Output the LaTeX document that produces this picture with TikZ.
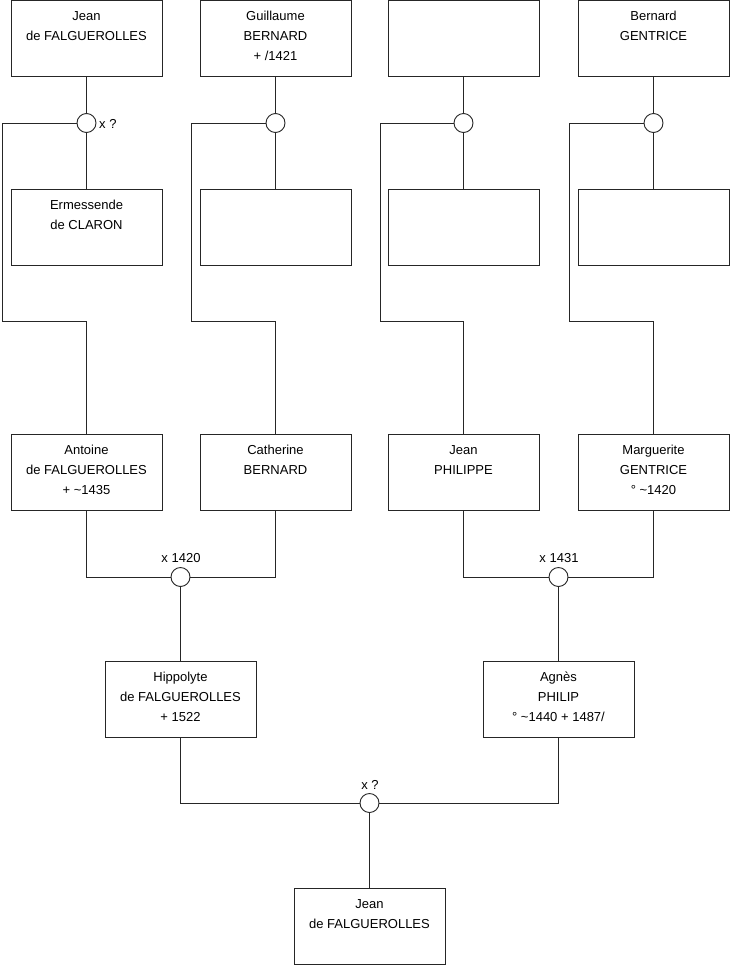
\documentclass[tikz,border=0pt]{standalone}
\usepackage{fontspec}
\setmainfont{Liberation Sans}
\begin{document}
\begin{tikzpicture}[x=1pt,y=-1pt,
  box/.style={draw=black!85, line width=0.9pt, fill=white, minimum width=151pt, minimum height=76pt, inner sep=0pt},
  txt/.style={anchor=north, align=center, inner sep=0pt, font=\fontsize{13}{20}\selectfont},
  union/.style={circle, draw=black!85, line width=0.9pt, fill=white, minimum size=19pt, inner sep=0pt},
  lab/.style={inner sep=0pt, font=\fontsize{13}{15}\selectfont},
  link/.style={draw=black!85, line width=0.9pt}]
\useasboundingbox (0,0) rectangle (740,975);
% top row
\node[box] (t1) at (86.5,38) {};
\node[box] (t2) at (275.5,38) {};
\node[box] (t3) at (463.5,38) {};
\node[box] (t4) at (653.5,38) {};
% spouses
\node[box] (s1) at (86.5,227) {};
\node[box] (s2) at (275.5,227) {};
\node[box] (s3) at (463.5,227) {};
\node[box] (s4) at (653.5,227) {};
% children
\node[box] (a1) at (86.5,472) {};
\node[box] (a2) at (275.5,472) {};
\node[box] (a3) at (463.5,472) {};
\node[box] (a4) at (653.5,472) {};
% grandchildren
\node[box] (h1) at (180.5,699) {};
\node[box] (h2) at (558.5,699) {};
% final
\node[box] (f) at (369.5,926) {};
% unions
\node[union] (c1) at (86.5,123) {};
\node[union] (c2) at (275.5,123) {};
\node[union] (c3) at (463.5,123) {};
\node[union] (c4) at (653.5,123) {};
\node[union] (m1) at (180.5,577) {};
\node[union] (m2) at (558.5,577) {};
\node[union] (m3) at (369.5,803) {};
% corner coordinates
\coordinate (k1) at (2,321);
\coordinate (k2) at (191,321);
\coordinate (k3) at (380,321);
\coordinate (k4) at (569,321);
% connectors
\foreach \i in {1,2,3,4}{
  \draw[link] (t\i) -- (c\i);
  \draw[link] (c\i) -- (s\i);
  \draw[link] (c\i.west) -| (k\i) -| (a\i.north);
}
\draw[link] (a1.south) |- (m1.west);
\draw[link] (a2.south) |- (m1.east);
\draw[link] (m1) -- (h1);
\draw[link] (a3.south) |- (m2.west);
\draw[link] (a4.south) |- (m2.east);
\draw[link] (m2) -- (h2);
\draw[link] (h1.south) |- (m3.west);
\draw[link] (h2.south) |- (m3.east);
\draw[link] (m3) -- (f);
% labels
\node[lab, anchor=west] (l1) at (99,124) {x ?};
\node[lab] (l2) at (181,558) {x 1420};
\node[lab] (l3) at (559,558) {x 1431};
\node[lab] (l4) at (370,785) {x ?};
% texts
\node[txt] at (t1.north) {\rule{0pt}{20.5pt}Jean\\de FALGUEROLLES};
\node[txt] at (t2.north) {\rule{0pt}{20.5pt}Guillaume\\BERNARD\\+ /1421};
\node[txt] at (t4.north) {\rule{0pt}{20.5pt}Bernard\\GENTRICE};
\node[txt] at (s1.north) {\rule{0pt}{20.5pt}Ermessende\\de CLARON};
\node[txt] at (a1.north) {\rule{0pt}{20.5pt}Antoine\\de FALGUEROLLES\\+ \textasciitilde1435};
\node[txt] at (a2.north) {\rule{0pt}{20.5pt}Catherine\\BERNARD};
\node[txt] at (a3.north) {\rule{0pt}{20.5pt}Jean\\PHILIPPE};
\node[txt] at (a4.north) {\rule{0pt}{20.5pt}Marguerite\\GENTRICE\\° \textasciitilde1420};
\node[txt] at (h1.north) {\rule{0pt}{20.5pt}Hippolyte\\de FALGUEROLLES\\+ 1522};
\node[txt] at (h2.north) {\rule{0pt}{20.5pt}Agnès\\PHILIP\\° \textasciitilde1440 + 1487/};
\node[txt] at (f.north) {\rule{0pt}{20.5pt}Jean\\de FALGUEROLLES};
\end{tikzpicture}
\end{document}
